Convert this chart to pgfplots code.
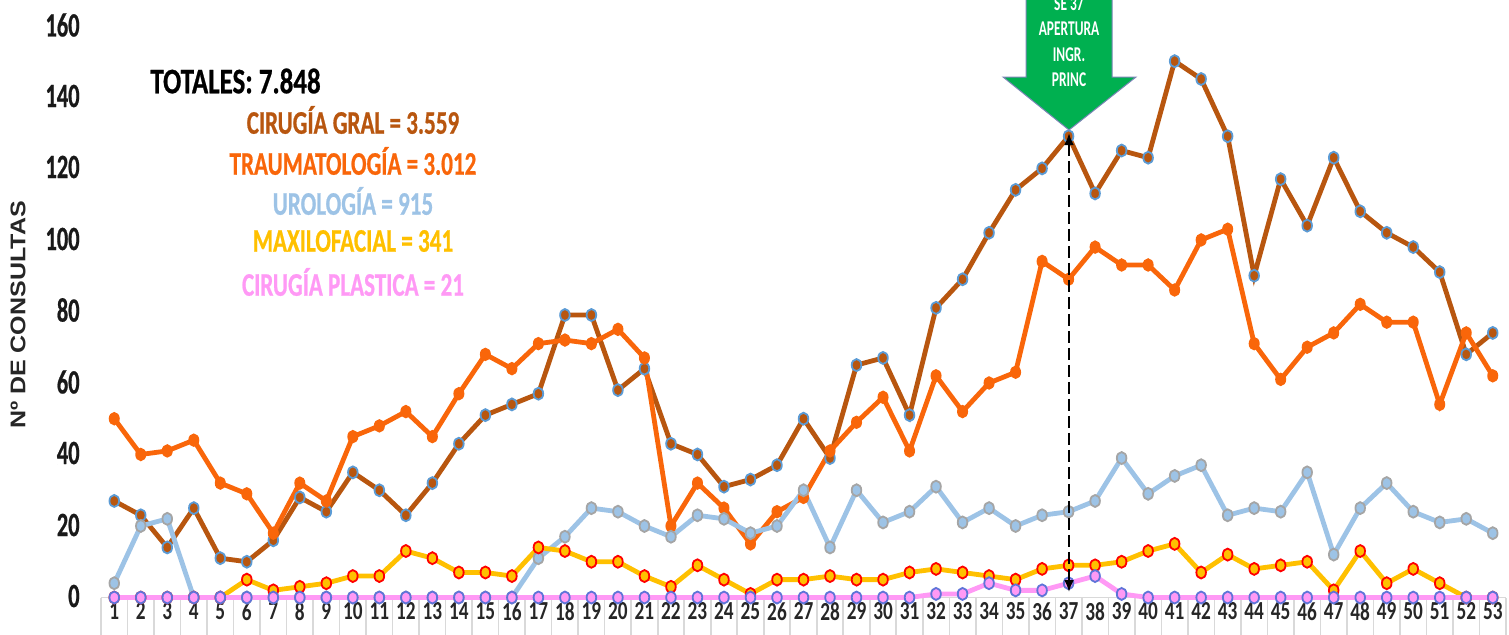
\documentclass[border=0pt]{standalone}
\usepackage{pgfplots}
\usepackage{fontspec}
\pgfplotsset{compat=1.18}
\usetikzlibrary{arrows.meta}
\setmainfont{Carlito}
\newfontfamily\tickf[FakeStretch=0.74]{Carlito Bold}
\newfontfamily\bigf[FakeStretch=0.70,FakeBold=0.6]{Carlito Bold}
\newfontfamily\numf[FakeStretch=0.66,FakeBold=0.6]{Carlito Bold}
\newfontfamily\arrf[FakeStretch=0.64]{Carlito Bold}
\newfontfamily\ylabf{Liberation Sans Bold}
\definecolor{cbrown}{HTML}{B8560F}
\definecolor{corange}{HTML}{F9660A}
\definecolor{cblue}{HTML}{9DC3E6}
\definecolor{cyel}{HTML}{FFC000}
\definecolor{cpink}{HTML}{FF99F5}
\definecolor{cedge}{HTML}{5B9BD5}
\definecolor{cgray}{HTML}{A5A5A5}
\definecolor{cviol}{HTML}{5F74D8}
\definecolor{cgreen}{HTML}{00B050}
\pgfplotstableread{
x cir tra uro max pla
1 27 50 4 0 0
2 23 40 20 0 0
3 14 41 22 0 0
4 25 44 0 0 0
5 11 32 0 0 0
6 10 29 0 5 0
7 16 18 0 2 0
8 28 32 0 3 0
9 24 27 0 4 0
10 35 45 0 6 0
11 30 48 0 6 0
12 23 52 0 13 0
13 32 45 0 11 0
14 43 57 0 7 0
15 51 68 0 7 0
16 54 64 0 6 0
17 57 71 11 14 0
18 79 72 17 13 0
19 79 71 25 10 0
20 58 75 24 10 0
21 64 67 20 6 0
22 43 20 17 3 0
23 40 32 23 9 0
24 31 25 22 5 0
25 33 15 18 1 0
26 37 24 20 5 0
27 50 28 30 5 0
28 39 41 14 6 0
29 65 49 30 5 0
30 67 56 21 5 0
31 51 41 24 7 0
32 81 62 31 8 1
33 89 52 21 7 1
34 102 60 25 6 4
35 114 63 20 5 2
36 120 94 23 8 2
37 129 89 24 9 4
38 113 98 27 9 6
39 125 93 39 10 1
40 123 93 29 13 0
41 150 86 34 15 0
42 145 100 37 7 0
43 129 103 23 12 0
44 90 71 25 8 0
45 117 61 24 9 0
46 104 70 35 10 0
47 123 74 12 2 0
48 108 82 25 13 0
49 102 77 32 4 0
50 98 77 24 8 0
51 91 54 21 4 0
52 68 74 22 0 0
53 74 62 18 0 0
}\datatab
\begin{document}
\begin{tikzpicture}
\clip (0pt,0pt) rectangle (754.5pt,-317pt);
\begin{axis}[
  at={(50.5pt,-298.75pt)}, anchor=south west,
  scale only axis, width=702.5pt, height=295pt,
  xmin=0.5, xmax=53.5, ymin=0, ymax=165,
  clip=false,
  axis y line=none,
  axis x line=bottom,
  x axis line style={draw=black!15, line width=0.8pt, -},
  /pgf/number format/assume math mode=true,
  xtick={1,...,53},
  xtick align=outside,
  xticklabel style={font=\tickf\fontsize{13}{14}\selectfont, text=black!85, yshift=1pt},
  major tick length=0pt,
  minor xtick={0.5,1.5,...,53.5},
  minor tick length=20pt,
  minor x tick style={draw=black!15, line width=0.8pt},
  major x tick style={draw=none},
]
\addplot[cbrown, line width=2.4pt, mark=*, mark size=3pt, mark options={xscale=0.8, fill=cbrown, draw=cedge, line width=0.9pt}] table[x=x,y=cir]{\datatab};
\addplot[corange, line width=2.4pt, mark=*, mark size=3pt, mark options={xscale=0.8, fill=corange, draw=corange, line width=0.7pt}] table[x=x,y=tra]{\datatab};
\addplot[cblue, line width=2.4pt, mark=*, mark size=3pt, mark options={xscale=0.8, fill=cblue, draw=cgray, line width=0.9pt}] table[x=x,y=uro]{\datatab};
\addplot[cyel, line width=2.4pt, mark=*, mark size=3pt, mark options={xscale=0.8, fill=cyel, draw=red, line width=0.9pt}] table[x=x,y=max]{\datatab};
\addplot[cpink, line width=2.4pt, mark=*, mark size=3pt, mark options={xscale=0.8, fill=cpink, draw=cviol, line width=0.9pt}] table[x=x,y=pla]{\datatab};
\end{axis}
\begin{scope}[x=0.5pt,y=-0.5pt]
\draw[black, line width=1.2pt, dash pattern=on 6pt off 2.5pt, {Latex[length=6pt,width=5pt]}-{Latex[length=6pt,width=5pt]}] (1069,133) -- (1069,592);
\draw[fill=cgreen, draw=cviol!70!black!70, line width=0.5pt] (1026,-10) -- (1112,-10) -- (1112,77) -- (1136,77) -- (1069,130) -- (1003,77) -- (1026,77) -- cycle;
\node[text=white, font=\arrf\fontsize{10.5}{11}\selectfont] at (1069,4) {SE 37};
\node[text=white, font=\arrf\fontsize{10.5}{11}\selectfont] at (1069,29) {APERTURA};
\node[text=white, font=\arrf\fontsize{10.5}{11}\selectfont] at (1069,55) {INGR.};
\node[text=white, font=\arrf\fontsize{10.5}{11}\selectfont] at (1069,80) {PRINC};
\foreach \v/\yy in {0/596,20/525,40/453,60/382,80/310,100/239,120/167,140/96,160/25}
  \node[anchor=east, font=\numf\fontsize{17}{18}\selectfont, text=black!90, inner sep=0pt] at (80,\yy) {\v};
\node[rotate=90, font=\ylabf\fontsize{12.5}{13}\selectfont, text=black!85, yscale=0.85] at (18,315) {Nº DE CONSULTAS};
\node[font=\bigf\fontsize{18}{19}\selectfont, text=black, anchor=west, inner sep=0pt, xscale=1.07] at (150,81) {TOTALES: 7.848};
\node[font=\bigf\fontsize{16.5}{17}\selectfont, text=cbrown] at (353,120) {CIRUGÍA GRAL = 3.559};
\node[font=\bigf\fontsize{16.5}{17}\selectfont, text=corange] at (353,161) {TRAUMATOLOGÍA = 3.012};
\node[font=\bigf\fontsize{16.5}{17}\selectfont, text=cblue] at (353,201) {UROLOGÍA = 915};
\node[font=\bigf\fontsize{16.5}{17}\selectfont, text=cyel] at (353,241) {MAXILOFACIAL = 341};
\node[font=\bigf\fontsize{16.5}{17}\selectfont, text=cpink] at (353,282) {CIRUGÍA PLASTICA = 21};
\end{scope}
\end{tikzpicture}
\end{document}
